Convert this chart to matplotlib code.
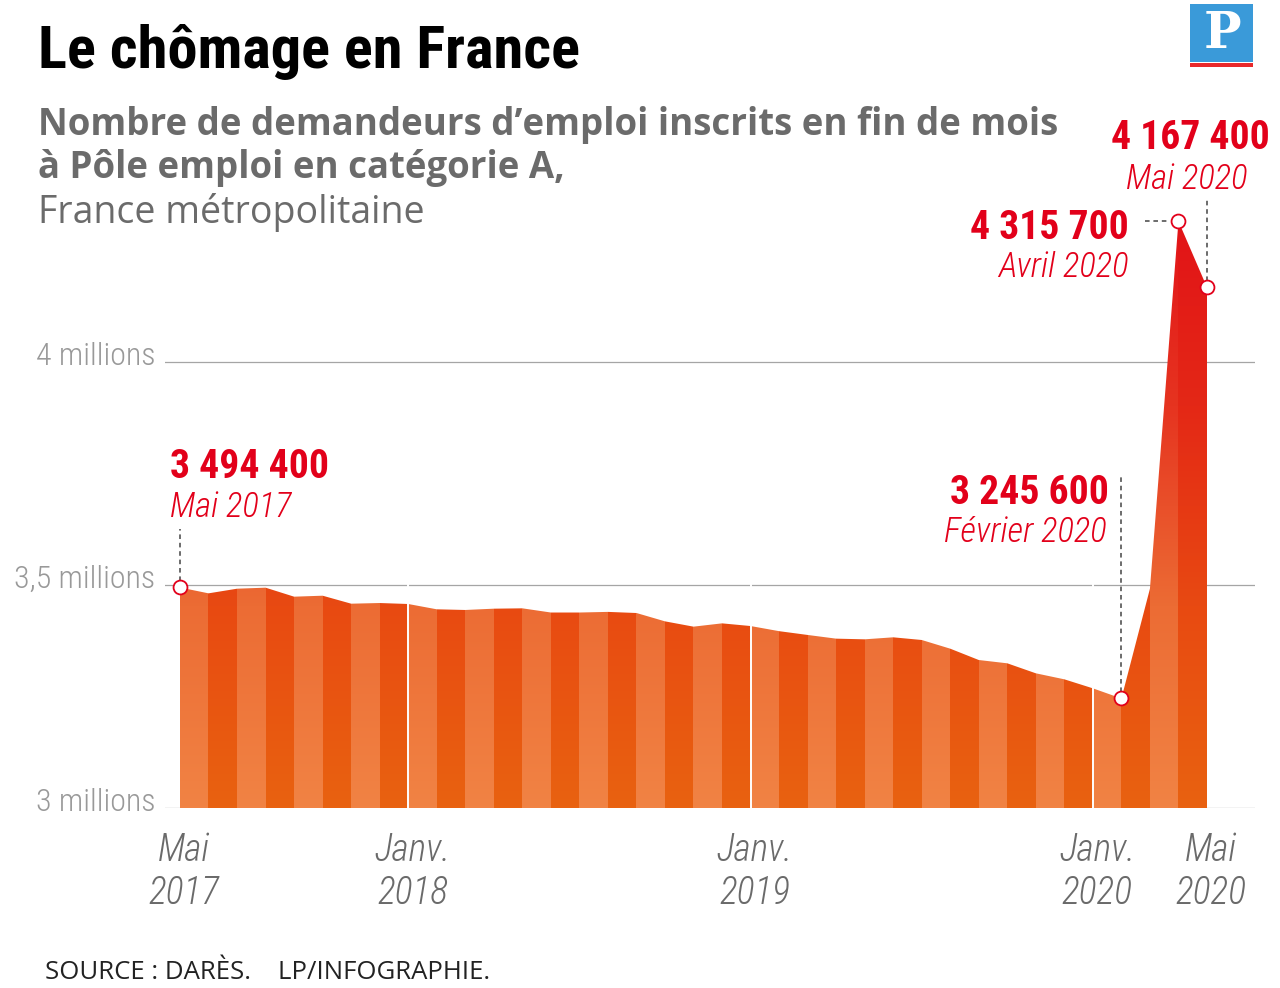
import os
import numpy as np
import matplotlib
matplotlib.use("Agg")
import matplotlib.pyplot as plt
from matplotlib import font_manager
from matplotlib.font_manager import FontProperties
from matplotlib.patches import Polygon, Rectangle
import matplotlib.transforms as mtransforms

# demandeurs d'emploi cat. A, France métropolitaine, mai 2017 -> mai 2020
values = [3494400, 3481300, 3491700, 3494000, 3473800, 3476000, 3458100, 3459600,
          3457400, 3445500, 3444000, 3446900, 3447700, 3438300, 3438300, 3439700,
          3437200, 3418500, 3406600, 3414000, 3408000, 3396500, 3388000, 3379700,
          3378200, 3382700, 3376700, 3357200, 3331800, 3324400, 3302000, 3288500,
          3268300, 3245600, 3491700, 4315700, 4167400]
month_labels = ["Mai\n2017", "Janv.\n2018", "Janv.\n2019", "Janv.\n2020", "Mai\n2020"]
month_label_pos = [0, 8, 20, 32, 36]
jan_pos = [8, 20, 32]
grid_vals = [3.0, 3.5, 4.0]
grid_labels = ["3 millions", "3,5 millions", "4 millions"]

# points annotés : (index, chiffre, mois)
highlights = [(0, "3 494 400", "Mai 2017"),
              (33, "3 245 600", "Février 2020"),
              (35, "4 315 700", "Avril 2020"),
              (36, "4 167 400", "Mai 2020")]

files = {os.path.basename(f.fname).lower(): f.fname for f in font_manager.fontManager.ttflist}


def pick(cands, **fallback):
    for c in cands:
        if c.lower() in files:
            return FontProperties(fname=files[c.lower()])
    return FontProperties(family="DejaVu Sans", **fallback)


F_TITLE = pick(["NotoSans-ExtraCondensedBold.ttf", "NotoSans-ExtraCondensedBlack.ttf",
                "RobotoCondensed-Bold.ttf", "NotoSans-CondensedBold.ttf",
                "LiberationSansNarrow-Bold.ttf", "DejaVuSansCondensed-Bold.ttf"], weight="bold")
F_BOLD = pick(["NotoSans-CondensedBold.ttf", "RobotoCondensed-Bold.ttf",
               "LiberationSansNarrow-Bold.ttf", "DejaVuSansCondensed-Bold.ttf"], weight="bold")
F_LIGHT = pick(["NotoSans-ExtraCondensedLight.ttf", "NotoSans-CondensedLight.ttf",
                "RobotoCondensed-Light.ttf", "LiberationSansNarrow-Regular.ttf",
                "DejaVuSansCondensed.ttf", "NotoSans-Condensed.ttf"])
F_ITAL = pick(["NotoSans-ExtraCondensedLightItalic.ttf", "NotoSans-CondensedLightItalic.ttf",
               "RobotoCondensed-LightItalic.ttf", "LiberationSansNarrow-Italic.ttf",
               "DejaVuSansCondensed-Oblique.ttf", "NotoSans-CondensedItalic.ttf"], style="italic")

names = {f.name for f in font_manager.fontManager.ttflist}
SANS = "Open Sans" if "Open Sans" in names else "DejaVu Sans"

RED = "#e2001a"
GREY = "#999999"

x = np.arange(len(values))
y = np.array(values) / 1e6

fig = plt.figure(figsize=(12.8, 9.88), dpi=100)
ax = fig.add_axes([165 / 1280, 1 - 808 / 988, 1090 / 1280, (808 - 150) / 988])

# bandes alternées avec dégradé vertical
stops = [3.0, 3.45, 3.9, 4.35]
light = [(241, 131, 68), (236, 108, 52), (230, 52, 32), (226, 18, 24)]
dark = [(233, 98, 16), (232, 74, 18), (228, 40, 22), (226, 18, 24)]
ys = np.linspace(3.0, 4.4, 400)
img = np.zeros((len(ys), len(x) - 1, 3))
for c in range(3):
    lc = np.interp(ys, stops, [s[c] for s in light])
    dc = np.interp(ys, stops, [s[c] for s in dark])
    for j in range(len(x) - 1):
        img[:, j, c] = lc if j % 2 == 0 else dc
im = ax.imshow(img / 255, extent=(0, len(x) - 1, 3.0, 4.4), origin="lower",
               aspect="auto", interpolation="nearest", zorder=2)
verts = np.column_stack([np.r_[x, x[::-1]], np.r_[y, np.full_like(y, 3.0)]])
area = Polygon(verts, closed=True, facecolor="none", edgecolor="none")
ax.add_patch(area)
im.set_clip_path(area)

px = (1207 - 180) / 36
ax.set_xlim(-15 / px, 36 + 48 / px)
ax.set_ylim(3.0, 3 + 658 / 446)
ax.axis("off")

for g, lab in zip(grid_vals, grid_labels):
    ax.axhline(g, color="#a5a5a5", lw=0.9, zorder=1)
    ax.text(-0.009, g + 0.012, lab, transform=ax.get_yaxis_transform(),
            ha="right", va="center", fontproperties=F_LIGHT, fontsize=23, color=GREY)

ax.vlines(jan_pos, 3.0, 3.51, color="white", lw=1.4, zorder=3)

trans = mtransforms.blended_transform_factory(ax.transData, fig.transFigure)
for pos, lab in zip(month_label_pos, month_labels):
    ax.text(pos + 0.15, 1 - 832 / 988, lab, transform=trans, ha="center", va="top",
            fontproperties=F_ITAL, fontsize=27, color="#6a6a6a", linespacing=1.2)

# traits pointillés vers les annotations
dash = dict(color="#444444", lw=1.1, ls=(0, (3, 2.5)), zorder=3)
ax.plot([x[0], x[0]], [y[0] + 0.015, 3.625], **dash)
ax.plot([x[33], x[33]], [y[33] + 0.015, 3.747], **dash)
ax.plot([x[35] - 33 / px, x[35] - 0.3], [y[35], y[35]], **dash)
ax.plot([x[36], x[36]], [y[36] + 0.015, 4.363], **dash)

hx = [h[0] for h in highlights]
ax.plot(x[hx], y[hx], "o", ms=10, mfc="white", mec=RED, mew=1.3, zorder=5)

# positions des étiquettes en pixels (dx chiffre, dy chiffre, dy mois, alignement, dx mois)
offs = {0: (-10, 109.5, 70, "left", -10),
        33: (-13, 194, 156, "right", -15),
        35: (-50, -17.5, -56, "right", -50),
        36: (63, 138, 98, "right", 41)}
k = 72 / 100
for i, num, lab in highlights:
    dx, dyn, dym, ha, dxm = offs[i]
    ax.annotate(num, (x[i], y[i]), xytext=(dx * k, dyn * k), textcoords="offset points",
                ha=ha, va="baseline", fontproperties=F_BOLD, fontsize=28.5, color=RED, zorder=6)
    ax.annotate(lab, (x[i], y[i]), xytext=(dxm * k, dym * k), textcoords="offset points",
                ha=ha, va="baseline", fontproperties=F_ITAL, fontsize=25, color=RED, zorder=6)

# titres
fig.text(38 / 1280, 1 - 68 / 988, "Le chômage en France", fontproperties=F_TITLE,
         fontsize=43.5, color="black", va="baseline")
fig.text(38 / 1280, 1 - 125 / 988, "Nombre de demandeurs d\u2019emploi inscrits en fin de mois",
         fontsize=26.4, fontweight="bold", color="#6b6b6b", family=SANS, va="center")
fig.text(38 / 1280, 1 - 168 / 988, "à Pôle emploi en catégorie A,",
         fontsize=26.4, fontweight="bold", color="#6b6b6b", family=SANS, va="center")
fig.text(38 / 1280, 1 - 212 / 988, "France métropolitaine",
         fontsize=27, color="#6b6b6b", family=SANS, va="center")

fig.text(45 / 1280, 1 - 972 / 988, "SOURCE : DARÈS.    LP/INFOGRAPHIE.",
         fontsize=18.5, color="#222222", family=SANS, va="center")

# logo
fig.patches.append(Rectangle((1190 / 1280, 1 - 62 / 988), 63 / 1280, 58 / 988,
                             transform=fig.transFigure, facecolor="#3a9ad9", edgecolor="none"))
fig.patches.append(Rectangle((1190 / 1280, 1 - 67 / 988), 63 / 1280, 4 / 988,
                             transform=fig.transFigure, facecolor="#e8282b", edgecolor="none"))
fig.text(1222 / 1280, 1 - 34 / 988, "P", fontsize=36, fontweight="bold", color="white",
         family="DejaVu Serif", ha="center", va="center")

fig.savefig("out.png", dpi=100, facecolor="white")
